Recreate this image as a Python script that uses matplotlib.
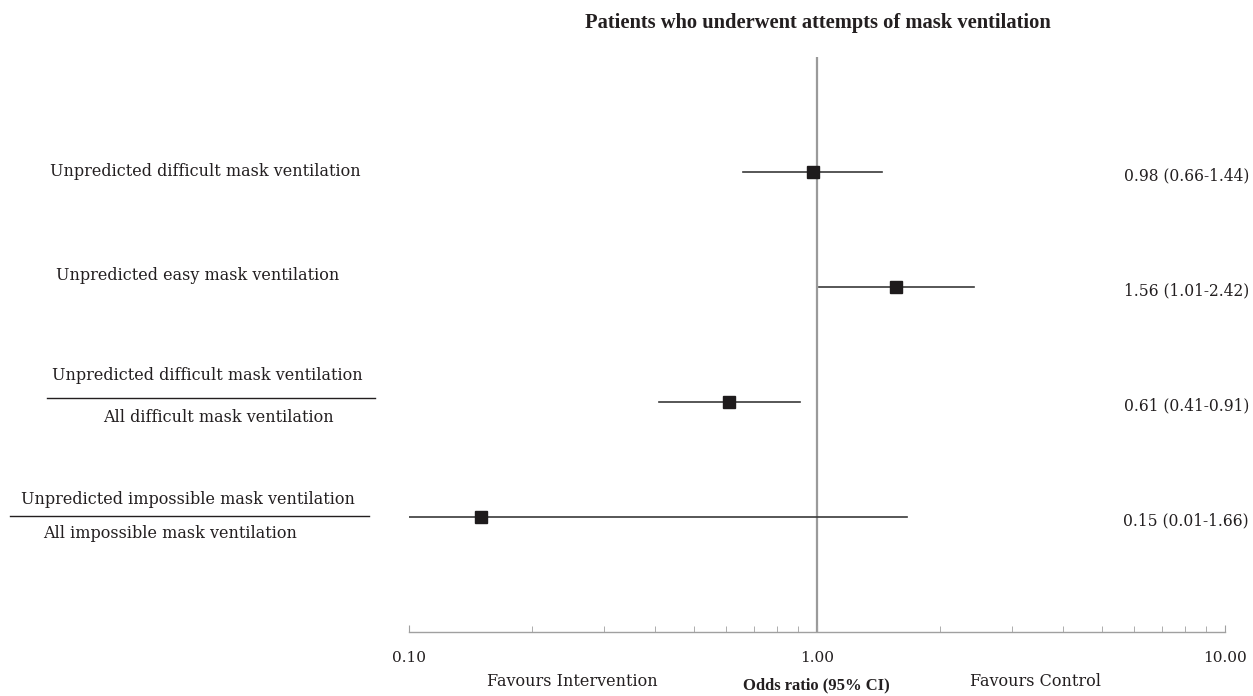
import matplotlib
matplotlib.use("Agg")
import matplotlib.pyplot as plt
from matplotlib.ticker import FixedLocator, FixedFormatter, LogLocator, NullFormatter
from matplotlib.lines import Line2D
import matplotlib.transforms as mtransforms

# ---- data ----
outcomes = [
    ("Unpredicted difficult mask ventilation", None),
    ("Unpredicted easy mask ventilation", None),
    ("Unpredicted difficult mask ventilation", "All difficult mask ventilation"),
    ("Unpredicted impossible mask ventilation", "All impossible mask ventilation"),
]
odds_ratio = [0.98, 1.56, 0.61, 0.15]
ci_low = [0.66, 1.01, 0.41, 0.01]
ci_high = [1.44, 2.42, 0.91, 1.66]
tick_values = [0.1, 1.0, 10.0]
tick_labels = ["0.10", "1.00", "10.00"]
title = "Patients who underwent attempts of mask ventilation"
xlabel = "Odds ratio (95% CI)"
left_note = "Favours Intervention"
right_note = "Favours Control"

BODY = ["DejaVu Serif"]
TIMES = ["Liberation Serif", "DejaVu Serif"]
TXT = "#231f20"
plt.rcParams["font.family"] = BODY

fig = plt.figure(figsize=(12.53, 6.96), dpi=100)
W, H = 1253, 696
ax = fig.add_axes([409 / W, 1 - 632 / H, (1225 - 409) / W, (632 - 57) / H])
ax.set_xscale("log")
ax.set_xlim(0.1, 10)
ax.set_ylim(0, 5)

n = len(odds_ratio)
ypos = [n - i for i in range(n)]

# reference line at 1
ax.axvline(1.0, color="#9a9a9a", lw=1.6, zorder=1)

for y, o, lo, hi in zip(ypos, odds_ratio, ci_low, ci_high):
    ax.plot([lo, hi], [y, y], color="#3a3a3a", lw=1.2, zorder=2, clip_on=True)
    ax.plot([o], [y], marker="s", ms=8.5, color="#1e1b1c", zorder=3, clip_on=False)

for s in ["top", "right", "left"]:
    ax.spines[s].set_visible(False)
ax.spines["bottom"].set_color("#a0a0a0")
ax.spines["bottom"].set_linewidth(1.0)
ax.set_yticks([])
ax.xaxis.set_major_locator(FixedLocator(tick_values))
ax.xaxis.set_major_formatter(FixedFormatter(tick_labels))
ax.xaxis.set_minor_locator(LogLocator(base=10, subs=range(2, 10)))
ax.xaxis.set_minor_formatter(NullFormatter())
ax.tick_params(axis="x", which="major", direction="in", length=5, color="#a0a0a0",
               labelsize=11, pad=14, labelcolor=TXT)
ax.tick_params(axis="x", which="minor", direction="in", length=4, color="#a0a0a0")

# right-hand estimate labels
trans_r = mtransforms.blended_transform_factory(fig.transFigure, ax.transData)
for y, o, lo, hi in zip(ypos, odds_ratio, ci_low, ci_high):
    ax.text(1249 / W, y - 0.03, f"{o:.2f} ({lo:.2f}-{hi:.2f})", transform=trans_r,
            ha="right", va="center", fontsize=11.2, color=TXT)

def fx(px):
    return px / W

def fy(py):
    return 1 - py / H

LS = 11.5
# single labels
fig.text(fx(205), fy(172), outcomes[0][0], ha="center", va="center", fontsize=LS, color=TXT)
fig.text(fx(198), fy(275), outcomes[1][0], ha="center", va="center", fontsize=LS, color=TXT)
# fractions
fig.text(fx(207), fy(375), outcomes[2][0], ha="center", va="center", fontsize=LS, color=TXT)
fig.add_artist(Line2D([fx(47), fx(375)], [fy(398), fy(398)], color=TXT, lw=1.0))
fig.text(fx(218), fy(417), outcomes[2][1], ha="center", va="center", fontsize=LS, color=TXT)
fig.text(fx(188), fy(500), outcomes[3][0], ha="center", va="center", fontsize=LS, color=TXT)
fig.add_artist(Line2D([fx(10), fx(369)], [fy(516), fy(516)], color=TXT, lw=1.0))
fig.text(fx(170), fy(533), outcomes[3][1], ha="center", va="center", fontsize=LS, color=TXT)

# title and bottom notes
fig.text(fx(818), fy(23), title, ha="center", va="center", fontsize=14.8, fontweight="bold",
         color=TXT, family=TIMES)
fig.text(fx(572), fy(681), left_note, ha="center", va="center", fontsize=LS, color=TXT)
fig.text(fx(816), fy(685), xlabel, ha="center", va="center", fontsize=12, fontweight="bold",
         color=TXT, family=TIMES)
fig.text(fx(1035), fy(681), right_note, ha="center", va="center", fontsize=LS, color=TXT)

fig.savefig("out.png", dpi=100)
